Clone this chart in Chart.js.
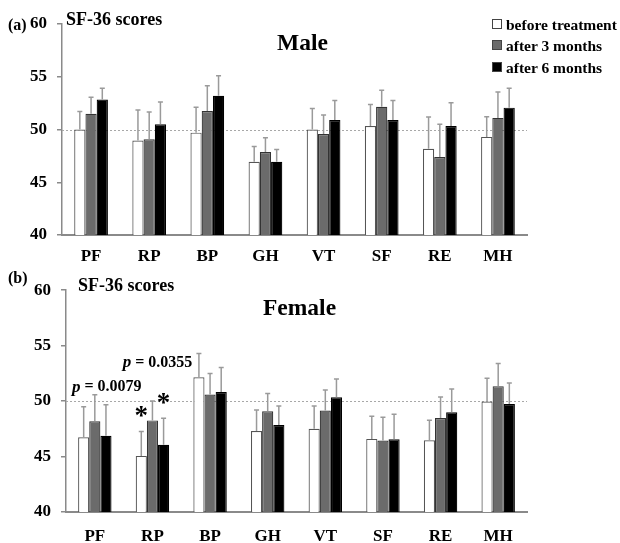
<!DOCTYPE html>
<html>
<head>
<meta charset="utf-8">
<script src="https://cdn.jsdelivr.net/npm/chart.js@4.4.0/dist/chart.umd.min.js"></script>
<style>
body { margin: 0; background: #fff; }
#wrap { position: relative; width: 620px; height: 543px; overflow: hidden;
        font-family: "Liberation Serif", "Times New Roman", serif; font-weight: bold; color: #000; }
#wrap canvas { position: absolute; left: 0; }
.t { position: absolute; white-space: nowrap; line-height: 1; }
.leg { position: absolute; left: 492px; font-size: 15.5px; line-height: 1; white-space: nowrap; }
.leg i { display: inline-block; width: 8px; height: 8px; margin-right: 4px; border: 1px solid #444; vertical-align: 1px; }
</style>
</head>
<body>
<div id="wrap">
  <canvas id="maleChart" width="620" height="270" style="top:0"></canvas>
  <canvas id="femaleChart" width="620" height="273" style="top:270px"></canvas>

  <div class="t" style="left:8px;top:17px;font-size:16px">(a)</div>
  <div class="t" style="left:66px;top:10px;font-size:18px">SF-36 scores</div>
  <div class="t" style="left:277px;top:31px;font-size:23.5px">Male</div>

  <div class="leg" style="top:17px"><i style="background:#fff"></i>before treatment</div>
  <div class="leg" style="top:38px"><i style="background:#6b6b6b"></i>after 3 months</div>
  <div class="leg" style="top:60px"><i style="background:#000"></i>after 6 months</div>

  <div class="t" style="left:8px;top:270px;font-size:16px">(b)</div>
  <div class="t" style="left:78px;top:276px;font-size:18px">SF-36 scores</div>
  <div class="t" style="left:263px;top:296px;font-size:23.5px">Female</div>
</div>

<script>
// ===== DATA =====
const categories = ['PF', 'RP', 'BP', 'GH', 'VT', 'SF', 'RE', 'MH'];
const seriesNames = ['before treatment', 'after 3 months', 'after 6 months'];
const yTicks = [40, 45, 50, 55, 60];
const refLine = 50;

// male means and upper error (SD)
const maleBefore = [50.0, 48.95, 49.7, 46.95, 50.0, 50.33, 48.18, 49.3];
const male3m     = [51.5, 49.07, 51.75, 47.87, 49.57, 52.16, 47.4, 51.1];
const male6m     = [52.85, 50.5, 53.2, 46.95, 50.9, 50.9, 50.33, 52.07];
const maleBeforeErr = [1.7, 2.9, 2.4, 1.45, 2.0, 2.05, 3.0, 1.9];
const male3mErr     = [1.55, 2.6, 2.4, 1.35, 1.8, 1.55, 3.1, 2.45];
const male6mErr     = [1.05, 2.1, 1.9, 1.15, 1.85, 1.85, 2.2, 1.85];

// female means and upper error (SD)
const femaleBefore = [46.74, 45.06, 52.15, 47.3, 47.5, 46.59, 46.47, 49.97];
const female3m     = [48.18, 48.26, 50.59, 49.09, 49.15, 46.44, 48.47, 51.35];
const female6m     = [46.88, 46.06, 50.82, 47.85, 50.35, 46.56, 49.0, 49.74];
const femaleBeforeErr = [2.75, 2.2, 2.15, 1.9, 2.05, 2.05, 1.8, 2.1];
const female3mErr     = [2.4, 1.75, 1.9, 1.6, 1.85, 2.1, 1.9, 2.05];
const female6mErr     = [2.8, 2.4, 2.2, 1.7, 1.65, 2.25, 2.1, 1.9];

// significance notes (female RP)
const pNotes = [
    { text: '0.0079', cat: 0, value: 51.25, dx: 12 },
    { text: '0.0355', cat: 1, value: 53.45, dx: 5 }
];
const starBars = [{ cat: 1, series: 0 }, { cat: 1, series: 2 }];

const fills = ['#ffffff', '#6b6b6b', '#000000'];
const borders = ['#555555', '#333333', '#000000'];
const FONT = '"Liberation Serif", "Times New Roman", serif';

// ===== PLUGINS =====
const refLinePlugin = {
    id: 'refLine',
    beforeDatasetsDraw(chart) {
        const { ctx, chartArea, scales } = chart;
        const y = Math.round(scales.y.getPixelForValue(refLine)) + 0.5;
        ctx.save();
        ctx.strokeStyle = '#a8a8a8';
        ctx.lineWidth = 1;
        ctx.setLineDash([2, 2]);
        ctx.beginPath();
        ctx.moveTo(chartArea.left, y);
        ctx.lineTo(chartArea.right, y);
        ctx.stroke();
        ctx.restore();
    }
};

const errorBarPlugin = {
    id: 'errorBars',
    afterDatasetsDraw(chart) {
        const { ctx, scales } = chart;
        ctx.save();
        ctx.strokeStyle = '#9a9a9a';
        ctx.lineWidth = 1.5;
        chart.data.datasets.forEach((ds, i) => {
            const meta = chart.getDatasetMeta(i);
            meta.data.forEach((bar, j) => {
                const top = scales.y.getPixelForValue(ds.data[j] + ds.errors[j]);
                ctx.beginPath();
                ctx.moveTo(bar.x, bar.y);
                ctx.lineTo(bar.x, top);
                ctx.moveTo(bar.x - 2.5, top);
                ctx.lineTo(bar.x + 2.5, top);
                ctx.stroke();
            });
        });
        ctx.restore();
    }
};

const notesPlugin = {
    id: 'notes',
    afterDraw(chart, args, opts) {
        if (!opts.show) return;
        const { ctx, scales } = chart;
        ctx.save();
        ctx.fillStyle = '#000';
        ctx.textBaseline = 'middle';
        pNotes.forEach(n => {
            const cx = scales.x.getPixelForValue(n.cat) + n.dx;
            const y = scales.y.getPixelForValue(n.value);
            ctx.font = 'italic bold 17px ' + FONT;
            const pw = ctx.measureText('p').width;
            ctx.font = 'bold 16px ' + FONT;
            const rest = ' = ' + n.text;
            const rw = ctx.measureText(rest).width;
            let x = cx - (pw + rw) / 2;
            ctx.font = 'italic bold 17px ' + FONT;
            ctx.fillText('p', x, y);
            ctx.font = 'bold 16px ' + FONT;
            ctx.fillText(rest, x + pw, y);
        });
        ctx.font = 'bold 27px ' + FONT;
        ctx.textAlign = 'center';
        ctx.textBaseline = 'alphabetic';
        starBars.forEach(s => {
            const ds = chart.data.datasets[s.series];
            const bar = chart.getDatasetMeta(s.series).data[s.cat];
            const top = scales.y.getPixelForValue(ds.data[s.cat] + ds.errors[s.cat]);
            ctx.fillText('*', bar.x, top - 7);
        });
        ctx.restore();
    }
};

// ===== CHART BUILDER =====
function buildChart(id, values, errors, cfg) {
    return new Chart(document.getElementById(id), {
        type: 'bar',
        data: {
            labels: categories,
            datasets: seriesNames.map((name, i) => ({
                label: name,
                data: values[i],
                errors: errors[i],
                backgroundColor: fills[i],
                borderColor: borders[i],
                borderWidth: 1.2,
                borderSkipped: 'bottom',
                categoryPercentage: 0.58,
                barPercentage: 1.0
            }))
        },
        options: {
            responsive: false,
            animation: false,
            layout: { padding: { top: cfg.top, right: cfg.right, left: 0, bottom: 0 } },
            plugins: {
                legend: { display: false },
                tooltip: { enabled: false },
                notes: { show: cfg.notes }
            },
            scales: {
                x: {
                    grid: { display: false, drawTicks: false },
                    border: { display: true, color: '#8a8a8a', width: 2 },
                    ticks: { color: '#000', padding: cfg.labelPad, font: { family: FONT, size: 17, weight: 'bold' } },
                    afterFit(scale) { scale.height = cfg.xHeight; }
                },
                y: {
                    min: yTicks[0],
                    max: yTicks[yTicks.length - 1],
                    afterBuildTicks(scale) { scale.ticks = yTicks.map(v => ({ value: v })); },
                    grid: { drawOnChartArea: false, drawTicks: true, tickLength: 5, color: '#8a8a8a', lineWidth: 1.5 },
                    border: { display: true, color: '#8a8a8a', width: 1.5 },
                    ticks: { color: '#000', padding: 10, font: { family: FONT, size: 17, weight: 'bold' } },
                    afterFit(scale) { scale.width = cfg.yWidth; }
                }
            }
        },
        plugins: [refLinePlugin, errorBarPlugin, notesPlugin]
    });
}

buildChart('maleChart',
    [maleBefore, male3m, male6m],
    [maleBeforeErr, male3mErr, male6mErr],
    { top: 24, right: 93, yWidth: 62, xHeight: 35, labelPad: 11, notes: false });

buildChart('femaleChart',
    [femaleBefore, female3m, female6m],
    [femaleBeforeErr, female3mErr, female6mErr],
    { top: 16, right: 93, yWidth: 66, xHeight: 31, labelPad: 14, notes: true });
</script>
</body>
</html>
